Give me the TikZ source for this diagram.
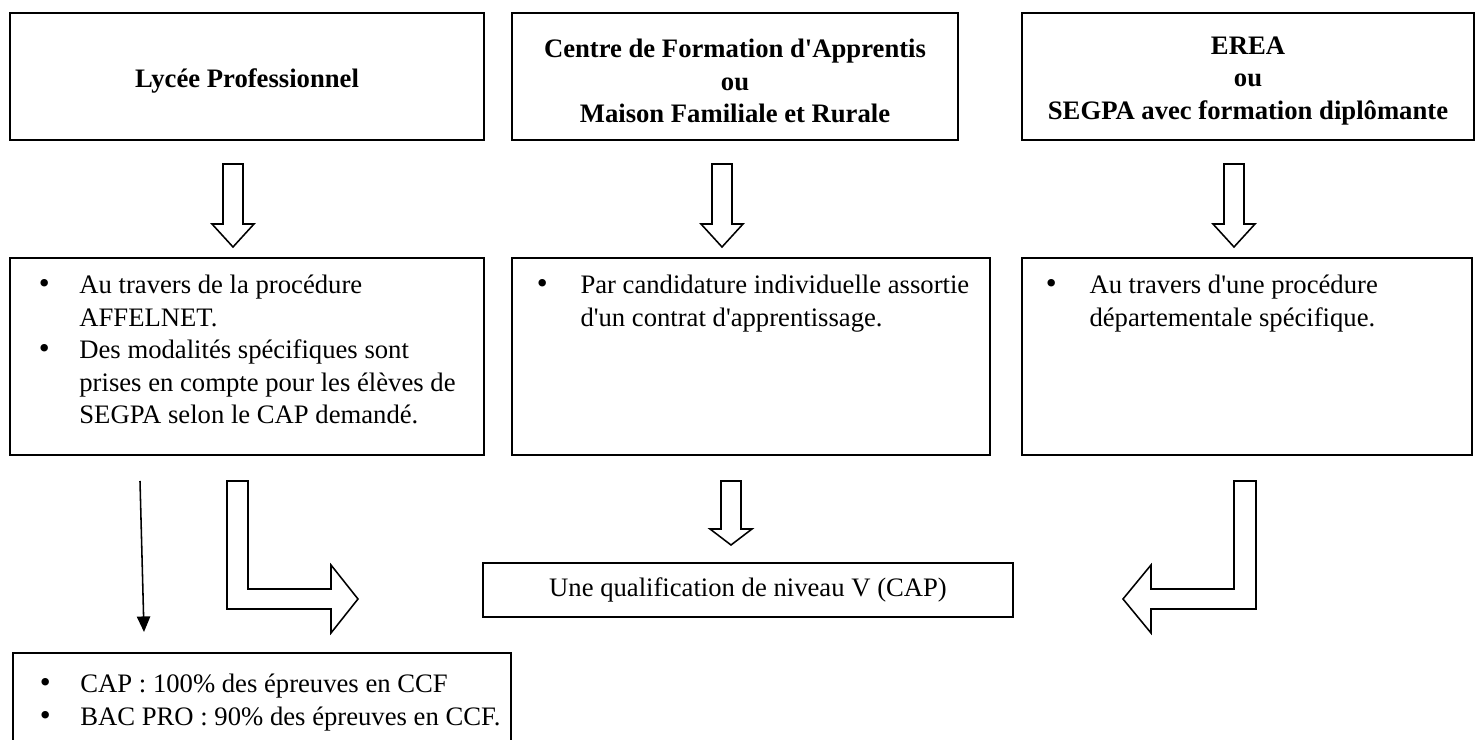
\documentclass[tikz,border=0pt]{standalone}
\usepackage{fontspec}
\setmainfont{Liberation Serif}[Ligatures=TeXOff]
\usetikzlibrary{arrows.meta,positioning,calc}

\newcommand{\px}{0.45pt}
\newcommand{\puce}{{\fontsize{14}{14}\selectfont\textbullet}}

\tikzset{
  boite/.style 2 args={draw, line width=0.9pt, minimum width=#1*\px, minimum height=#2*\px, inner sep=0pt, align=center},
  titre/.style={font=\fontsize{12}{14.6}\selectfont\bfseries, align=center, inner sep=0pt},
  liste/.style={anchor=base west, inner sep=0pt},
  bloc/.style={draw, line width=0.7pt, line join=miter},
  pics/flechebas/.style 2 args={code={
    \draw[bloc] (0,0) -- (20,0) -- (20,#1) -- (31,#1) -- (10,#1+#2) -- (-11,#1) -- (0,#1) -- cycle;}},
  pics/coudedroite/.style={code={
    \draw[bloc] (0,0) -- (21,0) -- (21,108) -- (104,108) -- (104,84) -- (131,118)
      -- (104,152) -- (104,128) -- (0,128) -- cycle;}},
  pics/coudegauche/.style={code={
    \draw[bloc] (0,0) -- (22,0) -- (22,128) -- (-83,128) -- (-83,152) -- (-111,118)
      -- (-83,84) -- (-83,108) -- (0,108) -- cycle;}}
}

\begin{document}
\begin{tikzpicture}[x=\px, y=-\px, every node/.style={font=\fontsize{12}{14.6}\selectfont}]
        \clip (0,0) rectangle (1480,740);

        % Box centres
        \coordinate (c1) at (247,76.5);
        \coordinate (c2) at (735,76.5);
        \coordinate (c3) at (1248,76.5);
        \coordinate (c4) at (247,356.5);
        \coordinate (c5) at (751,356.5);
        \coordinate (c6) at (1247,356.5);
        \coordinate (c7) at (748,590);

        % Establishments
        \node[boite={474}{127}] (lp) at (c1) {};
        \node[boite={446}{127}] (cfa) at (c2) {};
        \node[boite={452}{127}] (erea) at (c3) {};
        \node[titre] (lptxt) at ($(c1)+(0,4.5)$) {Lycée Professionnel};
        \node[titre] (cfatxt) at ($(c2)+(0,4.5)$) {Centre de Formation d'Apprentis\\ou\\Maison Familiale et Rurale};
        \node[titre] (ereatxt) at ($(c3)+(0,4.5)$) {EREA\\ou\\SEGPA avec formation diplômante};

        % Admission boxes
        \node[boite={474}{197}] (lpacc) at (c4) {};
        \node[boite={478}{197}] (cfaacc) at (c5) {};
        \node[boite={450}{197}] (ereaacc) at (c6) {};

        \node[liste] (lpacctxt) at ($(lpacc.north west)+(29.5,37)$) {%
          \begin{tabular}[t]{@{}p{18.2pt}@{}l@{}}
            \puce & Au travers de la procédure\\
                  & AFFELNET.\\
            \puce & Des modalités spécifiques sont\\
                  & prises en compte pour les élèves de\\
                  & SEGPA selon le CAP demandé.
          \end{tabular}};
        \node[liste] (cfaacctxt) at ($(cfaacc.north west)+(25.5,37)$) {%
          \begin{tabular}[t]{@{}p{19.6pt}@{}l@{}}
            \puce & Par candidature individuelle assortie\\
                  & d'un contrat d'apprentissage.
          \end{tabular}};
        \node[liste] (ereaacctxt) at ($(ereaacc.north west)+(24.5,37)$) {%
          \begin{tabular}[t]{@{}p{19.6pt}@{}l@{}}
            \puce & Au travers d'une procédure\\
                  & départementale spécifique.
          \end{tabular}};

        % Qualification
        \node[boite={530}{54}] (cap) at (c7) {Une qualification de niveau V (CAP)};

        % Exams
        \node[boite={498}{110}, anchor=north west] (ccf) at (12,652) {};
        \node[liste] (ccftxt) at ($(ccf.north west)+(27.5,41)$) {%
          \begin{tabular}[t]{@{}p{18.2pt}@{}l@{}}
            \puce & CAP : 100\% des épreuves en CCF\\
            \puce & BAC PRO : 90\% des épreuves en CCF.
          \end{tabular}};

        % Block arrows
        \pic at ($(lp.south)+(-24,23)$) {flechebas={60}{23}};
        \pic at ($(cfa.south)+(-23,23)$) {flechebas={60}{23}};
        \pic at ($(erea.south)+(-24,23)$) {flechebas={60}{23}};
        \pic at ($(cfaacc.south)+(-30,25)$) {flechebas={48}{16}};
        \pic at ($(lpacc.south)+(-20,25)$) {coudedroite};
        \pic at ($(ereaacc.south)+(-13,25)$) {coudegauche};

        % Thin arrow to the exams
        \coordinate (depart) at ($(lpacc.south west)+(131,25)$);
        \coordinate (arrivee) at ($(ccf.north west)+(132,-20)$);
        \draw[line width=0.7pt, -{Triangle[length=7pt,width=6pt]}] (depart) -- (arrivee);
    \end{tikzpicture}
\end{document}
